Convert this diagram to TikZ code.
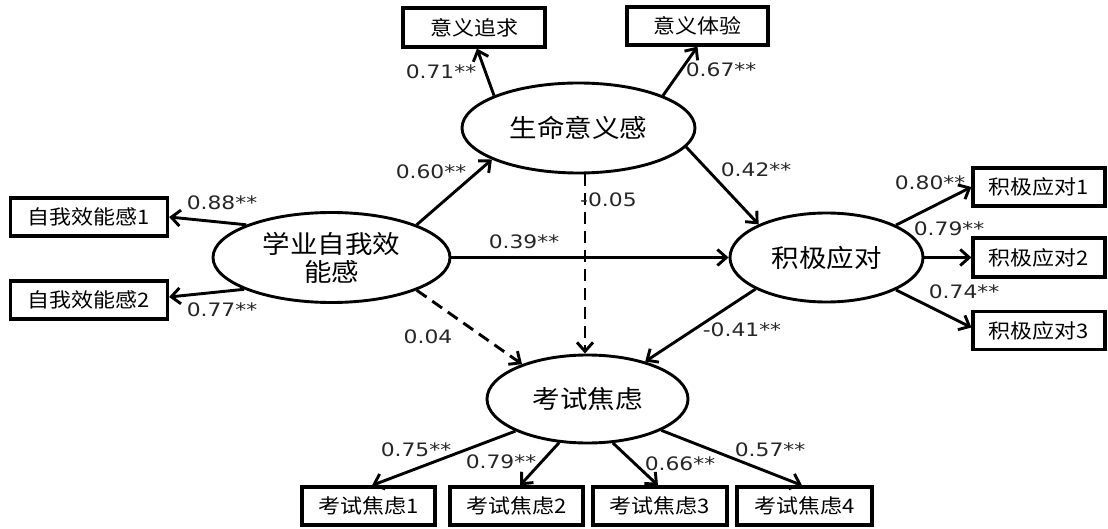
\documentclass[tikz,border=0pt]{standalone}
\usepackage{fontspec}
\setmainfont{DejaVu Sans}
\newfontfamily\cjk[FakeStretch=1.1]{Noto Sans CJK SC}
\newfontfamily\numf[FakeStretch=1.18]{DejaVu Sans}
\usetikzlibrary{shapes.geometric,arrows.meta,calc}
\tikzset{
  latent/.style={ellipse, draw, line width=2.9pt, inner sep=0pt, align=center,
    font=\cjk\fontsize{25}{28}\selectfont},
  obs/.style={rectangle, draw, line width=3.2pt, inner sep=0pt,
    font=\cjk\fontsize{20}{22}\selectfont},
  pathline/.style={line width=2.9pt, -{Straight Barb[length=9pt,width=16pt]}},
  dpathline/.style={pathline, dash pattern=on 12pt off 7pt},
  lab/.style={inner sep=0pt, text=black!85, font=\numf\fontsize{18.5}{20}\selectfont}
}
\begin{document}
\begin{tikzpicture}[x=1pt,y=-1pt]
\useasboundingbox (0,0) rectangle (1108,529);
% latent variables
\node[latent, minimum width=233pt, minimum height=90pt] (M) at (578.5,128) {生命意义感};
\node[latent, minimum width=237pt, minimum height=90pt] (S) at (331.5,257.5) {学业自我效\\能感};
\node[latent, minimum width=193pt, minimum height=89pt] (C) at (826.5,257.5) {积极应对};
\node[latent, minimum width=201pt, minimum height=88pt] (A) at (587.5,399) {考试焦虑};
% observed variables
\node[obs, minimum width=142pt, minimum height=39pt] (m1) at (474,27.5) {意义追求};
\node[obs, minimum width=141pt, minimum height=38pt] (m2) at (697.5,26) {意义体验};
\node[obs, minimum width=157pt, minimum height=38pt] (s1) at (89,217) {自我效能感1};
\node[obs, minimum width=157pt, minimum height=38pt] (s2) at (89,300) {自我效能感2};
\node[obs, minimum width=132pt, minimum height=38pt] (c1) at (1039,187) {积极应对1};
\node[obs, minimum width=132pt, minimum height=39pt] (c2) at (1039,257.5) {积极应对2};
\node[obs, minimum width=132pt, minimum height=38pt] (c3) at (1039,330.5) {积极应对3};
\node[obs, minimum width=133pt, minimum height=38pt] (a1) at (368.5,506) {考试焦虑1};
\node[obs, minimum width=133pt, minimum height=38pt] (a2) at (516.5,506) {考试焦虑2};
\node[obs, minimum width=134pt, minimum height=38pt] (a3) at (660,506) {考试焦虑3};
\node[obs, minimum width=135pt, minimum height=38pt] (a4) at (804.5,506) {考试焦虑4};
% connectors
\draw[pathline] (M.159) -- ($(m1.south)+(3,0)$);
\draw[pathline] (M.21) -- (m2.south);
\draw[pathline] (S.159) -- (s1.east);
\draw[pathline] (S.200) -- ($(s2.east)+(0,-3)$);
\draw[pathline] (S.21) -- (M.200);
\draw[pathline] (S.east) -- (C.west);
\coordinate (d0) at ($(M.south)+(6.5,0)$);
\draw[dpathline] (d0) -- (d0 |- A.north);
\draw[dpathline] (S.339) -- (A.152);
\draw[pathline] (M.350) -- (C.154);
\draw[pathline] (C.204) -- (A.33);
\draw[pathline] (C.25) -- (c1.west);
\draw[pathline] (C.east) -- (c2.west);
\draw[pathline] (C.335) -- ($(c3.west)+(0,-3)$);
\draw[pathline] (A.204) -- ($(a1.north)+(3.5,0)$);
\draw[pathline] (A.237) -- ($(a2.north)+(3.5,0)$);
\draw[pathline] (A.300) -- ($(a3.north)+(-2,0)$);
\draw[pathline] (A.337) -- ($(a4.north)+(-2.5,0)$);
% labels
\node[lab] (l1) at (441,72) {0.71**};
\node[lab] (l2) at (721,70) {0.67**};
\node[lab] (l3) at (222,203) {0.88**};
\node[lab] (l4) at (222,310) {0.77**};
\node[lab] (l5) at (431,172) {0.60**};
\node[lab] (l6) at (524,242) {0.39**};
\node[lab, anchor=west] (l7) at (580,200) {-0.05};
\node[lab] (l8) at (428,337) {0.04};
\node[lab] (l9) at (756,170) {0.42**};
\node[lab] (l10) at (742,330) {-0.41**};
\node[lab] (l11) at (930,183) {0.80**};
\node[lab] (l12) at (949,229) {0.79**};
\node[lab] (l13) at (964,292) {0.74**};
\node[lab] (l14) at (416,450) {0.75**};
\node[lab] (l15) at (501,462) {0.79**};
\node[lab] (l16) at (680,464) {0.66**};
\node[lab] (l17) at (770,450) {0.57**};
\end{tikzpicture}
\end{document}
